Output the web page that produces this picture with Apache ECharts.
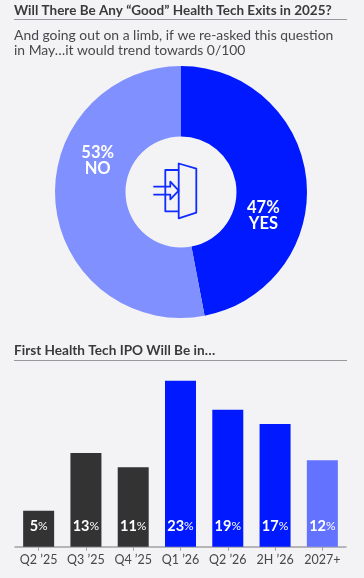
<!DOCTYPE html>
<html>
<head>
<meta charset="utf-8">
<style>
html, body { margin: 0; padding: 0; background: #f3f3f6; }
#main { width: 364px; height: 578px; }
</style>
</head>
<body>
<div id="main"></div>
<script src="https://cdn.jsdelivr.net/npm/echarts@6/dist/echarts.min.js"></script>
<script>
// exits donut
var pieNames = ['YES', 'NO'];
var pieValues = [47, 53];
var pieColors = ['#0019ff', '#8090ff'];
var pieOffsets = [[-11, 32], [10, -40]];

// IPO timing bars
var categories = ['Q2 \u201925', 'Q3 \u201925', 'Q4 \u201925', 'Q1 \u201926', 'Q2 \u201926', '2H \u201926', '2027+'];
var barValues = [5, 13, 11, 23, 19, 17, 12];
var barColors = ['#333333', '#333333', '#333333', '#0019ff', '#0019ff', '#0019ff', '#6372ff'];

var font = 'Lato';
var dark = '#3a3a3c';
var ruleColor = '#98989c';
var iconColor = '#0f2bff';

function iconLine(points, close) {
    return {
        type: close ? 'polygon' : 'polyline',
        shape: { points: points },
        style: { fill: null, stroke: iconColor, lineWidth: 1.8, lineJoin: 'round' }
    };
}

var option = {
    backgroundColor: '#f3f3f6',
    animation: false,
    title: [{
        text: 'Will There Be Any \u201cGood\u201d Health Tech Exits in 2025?',
        left: 14, top: 4, padding: 0,
        textStyle: { fontFamily: font, fontSize: 13.5, fontWeight: 'bold', color: dark }
    }, {
        text: 'And going out on a limb, if we re-asked this question\nin May\u2026it would trend towards 0/100',
        left: 14, top: 28, padding: 0,
        textStyle: { fontFamily: font, fontSize: 13.9, fontWeight: 'normal', color: '#48484a', lineHeight: 15 }
    }, {
        text: 'First Health Tech IPO Will Be in\u2026',
        left: 14, top: 344, padding: 0,
        textStyle: { fontFamily: font, fontSize: 13.6, fontWeight: 'bold', color: dark }
    }],
    grid: { left: 15, top: 370, width: 331, height: 176.7 },
    xAxis: {
        type: 'category',
        data: categories,
        axisLine: { lineStyle: { color: '#a2a2a6', width: 1.5 } },
        axisTick: { show: true, alignWithLabel: true, length: 4, lineStyle: { color: '#a2a2a6' } },
        axisLabel: { interval: 0, margin: 7, fontFamily: font, fontSize: 12.5, color: '#48484a' }
    },
    yAxis: { type: 'value', min: 0, max: 24.5, show: false },
    series: [{
        type: 'pie',
        center: [181, 192],
        radius: [55.5, 126],
        startAngle: 90,
        clockwise: true,
        silent: true,
        labelLine: { show: false },
        label: {
            position: 'inside',
            color: '#ffffff',
            fontFamily: font,
            fontSize: 16.5,
            fontWeight: 'bold',
            lineHeight: 16,
            formatter: '{d}%\n{b}'
        },
        data: pieNames.map(function (name, i) {
            return {
                name: name,
                value: pieValues[i],
                itemStyle: { color: pieColors[i] },
                label: { offset: pieOffsets[i] }
            };
        })
    }, {
        type: 'bar',
        barWidth: 31,
        silent: true,
        data: barValues.map(function (v, i) {
            return { value: v, itemStyle: { color: barColors[i] } };
        }),
        label: {
            show: true,
            position: 'insideBottom',
            distance: 13,
            formatter: function (p) { return '{n|' + p.value + '}{p|%}'; },
            rich: {
                n: { color: '#ffffff', fontFamily: font, fontSize: 14.5, fontWeight: 'bold' },
                p: { color: '#ffffff', fontFamily: font, fontSize: 12 }
            }
        }
    }],
    graphic: [
        { type: 'line', shape: { x1: 14, y1: 19.5, x2: 347, y2: 19.5 }, style: { stroke: ruleColor, lineWidth: 1 } },
        { type: 'line', shape: { x1: 14, y1: 360.5, x2: 347, y2: 360.5 }, style: { stroke: ruleColor, lineWidth: 1 } },
        // door icon in the donut hole
        iconLine([[178.7, 163.5], [196.3, 168.7], [196.3, 212.7], [178.7, 218.3]], true),
        iconLine([[178.7, 170], [165.3, 170], [165.3, 211.3], [178.7, 211.3]], false),
        iconLine([[153.3, 186.7], [170.3, 186.7], [170.3, 181.7], [178.7, 190.7], [170.3, 199.3], [170.3, 194.7], [153.3, 194.7]], false)
    ]
};

var chart = echarts.init(document.getElementById('main'));
chart.setOption(option);
</script>
</body>
</html>
